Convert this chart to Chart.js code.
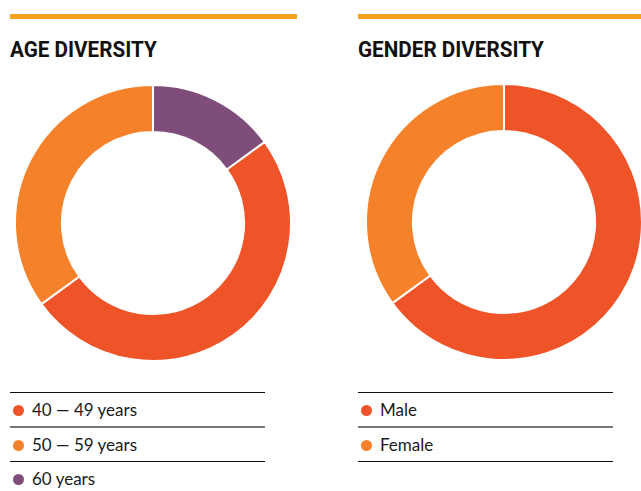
<!DOCTYPE html>
<html>
<head>
<meta charset="utf-8">
<script src="https://cdn.jsdelivr.net/npm/chart.js@4/dist/chart.umd.min.js"></script>
<style>
  html, body { margin: 0; padding: 0; background: #fff; width: 641px; height: 491px; overflow: hidden; position: relative; }
  .bar { position: absolute; height: 5px; background: #F8A21C; top: 14px; }
  .title { position: absolute; top: 39px; line-height: 22px; font-family: Roboto, "DejaVu Sans", sans-serif; font-weight: bold; font-size: 22px; color: #111; white-space: nowrap; transform-origin: 0 0; transform: scaleX(0.94); }
  .cv { position: absolute; }
  .legend { position: absolute; top: 392px; width: 255px; font-family: Lato, "Open Sans", sans-serif; font-size: 17px; color: #1a1a1a; }
  .row { position: relative; height: 33px; line-height: 33px; padding-left: 22px; }
  .row .dot { position: absolute; left: 3px; top: 12px; width: 11px; height: 11px; border-radius: 50%; }
  .line { height: 1px; background: #111; }
  .line.gray { height: 2px; background: #777; }
</style>
</head>
<body>
<div class="bar" style="left:10px;width:287px"></div>
<div class="bar" style="left:358px;width:283px"></div>
<div class="title" style="left:10px">AGE DIVERSITY</div>
<div class="title" style="left:358px">GENDER DIVERSITY</div>
<canvas id="age" class="cv" width="278" height="278" style="left:14px;top:84px"></canvas>
<canvas id="gender" class="cv" width="278" height="278" style="left:365px;top:83px"></canvas>
<div id="ageLegend" class="legend" style="left:10px"></div>
<div id="genderLegend" class="legend" style="left:358px"></div>
<script>
const ageLabels = ["40 \u2014 49 years", "50 \u2014 59 years", "60 years"];
const ageValues = [50, 35, 15];
const ageColors = ["#EF5328", "#F5822A", "#7E4D79"];

const genderLabels = ["Male", "Female"];
const genderValues = [65, 35];
const genderColors = ["#EF5328", "#F5822A"];

function donut(id, labels, values, colors, rotation) {
  new Chart(document.getElementById(id), {
    type: "doughnut",
    data: { labels: labels, datasets: [{ data: values, backgroundColor: colors, borderColor: "#fff", borderWidth: 2, hoverOffset: 0 }] },
    options: {
      responsive: false, animation: false, cutout: "66%", rotation: rotation,
      layout: { padding: 0 },
      plugins: { legend: { display: false }, tooltip: { enabled: false } }
    }
  });
}
donut("age", ageLabels, ageValues, ageColors, 54);
donut("gender", genderLabels, genderValues, genderColors, 0);

function legend(id, labels, colors, closeBottom) {
  const el = document.getElementById(id);
  let html = '<div class="line"></div>';
  labels.forEach((l, i) => {
    html += '<div class="row"><span class="dot" style="background:' + colors[i] + '"></span>' + l + '</div>';
    if (i === 0) html += '<div class="line gray"></div>';
    else if (i < labels.length - 1 || closeBottom) html += '<div class="line"></div>';
  });
  el.innerHTML = html;
}
legend("ageLegend", ageLabels, ageColors, false);
legend("genderLegend", genderLabels, genderColors, true);
</script>
</body>
</html>
